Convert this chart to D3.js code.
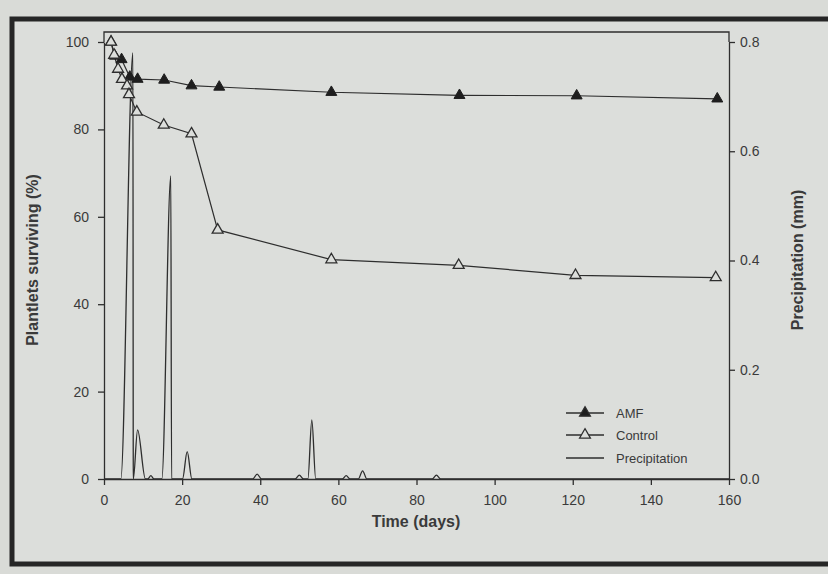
<!DOCTYPE html>
<html>
<head>
<meta charset="utf-8">
<script src="https://cdn.jsdelivr.net/npm/d3@7"></script>
<style>
  html, body { margin: 0; padding: 0; background: #d9dbd7; }
  svg { display: block; }
  text { font-family: "Liberation Sans", Arial, sans-serif; }
</style>
</head>
<body>
<script>
// ---------- data ----------
const amfDays   = [1.8, 2.8, 4.5, 6.6, 8.6, 15.4, 22.4, 29.5, 58.2, 91, 121, 157];
const amfVals   = [100, 96.8, 96, 92, 91.5, 91.3, 90, 89.7, 88.5, 87.8, 87.7, 87];
const ctrlDays  = [1.8, 2.6, 3.6, 4.6, 5.9, 6.4, 8.4, 15.3, 22.4, 29.1, 58.2, 90.8, 120.7, 156.6];
const ctrlVals  = [100, 97, 93.8, 91.5, 90, 88, 84, 81, 79, 57, 50.2, 48.9, 46.6, 46.1];
const precipDays = [0, 4.3, 7.4, 7.5, 8.6, 10.6, 11.2, 12, 12.8, 14.8, 17.1, 17.3, 20.1, 21.3, 22.5,
                    38.1, 39.2, 40.3, 48.9, 50, 51.1, 52.2, 53.2, 54.2, 61, 62, 63, 65.1, 66.2, 67.3, 84, 85.1, 86.2, 160];
const precipVals = [0, 0, 0.78, 0, 0.09, 0, 0, 0.006, 0, 0, 0.555, 0, 0, 0.05, 0,
                    0, 0.009, 0, 0, 0.007, 0, 0, 0.108, 0, 0, 0.006, 0, 0, 0.015, 0, 0, 0.007, 0, 0];
const xTicks = [0, 20, 40, 60, 80, 100, 120, 140, 160];
const yLeftTicks = [0, 20, 40, 60, 80, 100];
const yRightTicks = [0.0, 0.2, 0.4, 0.6, 0.8];
const legendLabels = ["AMF", "Control", "Precipitation"];

// ---------- layout ----------
const W = 828, H = 574;
const ink = "#2e2e2e", txt = "#3a3a3a";
const svg = d3.select("body").append("svg").attr("width", W).attr("height", H);

// outer photo frame
svg.append("rect").attr("x", 12).attr("y", 19).attr("width", 828).attr("height", 545)
  .attr("fill", "#dcdedb").attr("stroke", "#262626").attr("stroke-width", 5);

const x = d3.scaleLinear().domain([0, 160]).range([104, 729]);
const yL = d3.scaleLinear().domain([0, 100]).range([479, 42]);
const yR = d3.scaleLinear().domain([0, 0.8]).range([479, 42]);
const topY = 32;

// precipitation line
const pLine = d3.line().x(d => x(d[0])).y(d => yR(d[1])).curve(d3.curveMonotoneX);
svg.append("path").datum(precipDays.map((d, i) => [d, precipVals[i]]))
  .attr("d", pLine).attr("fill", "none").attr("stroke", ink).attr("stroke-width", 1.3);

// survival lines
const sLine = d3.line().x(d => x(d[0])).y(d => yL(d[1]));
svg.append("path").datum(amfDays.map((d, i) => [d, amfVals[i]]))
  .attr("d", sLine).attr("fill", "none").attr("stroke", ink).attr("stroke-width", 1.2);
svg.append("path").datum(ctrlDays.map((d, i) => [d, ctrlVals[i]]))
  .attr("d", sLine).attr("fill", "none").attr("stroke", ink).attr("stroke-width", 1.2);

const tri = d3.symbol().type(d3.symbolTriangle).size(52);
svg.append("g").selectAll("path").data(amfDays.map((d, i) => [d, amfVals[i]])).join("path")
  .attr("d", tri).attr("transform", d => `translate(${x(d[0])},${yL(d[1])})`)
  .attr("fill", "#1e1e1e").attr("stroke", "#1e1e1e").attr("stroke-width", 1);
svg.append("g").selectAll("path").data(ctrlDays.map((d, i) => [d, ctrlVals[i]])).join("path")
  .attr("d", tri).attr("transform", d => `translate(${x(d[0])},${yL(d[1])})`)
  .attr("fill", "#dcdedb").attr("stroke", ink).attr("stroke-width", 1.3);

// axes
function styleAxis(g) {
  g.selectAll("path").attr("stroke", ink).attr("stroke-width", 1.3);
  g.selectAll("line").attr("stroke", ink).attr("stroke-width", 1.3);
  g.selectAll("text").attr("fill", txt).style("font-size", "14px")
    .style("font-family", "'Liberation Sans', Arial, sans-serif");
}
svg.append("g").attr("transform", "translate(0,479)")
  .call(d3.axisBottom(x).tickValues(xTicks).tickSize(6).tickPadding(10).tickSizeOuter(0).tickFormat(d3.format("d")))
  .call(styleAxis);
svg.append("g").attr("transform", "translate(104,0)")
  .call(d3.axisLeft(yL).tickValues(yLeftTicks).tickSize(6).tickPadding(9).tickSizeOuter(0).tickFormat(d3.format("d")))
  .call(styleAxis);
svg.append("g").attr("transform", "translate(729,0)")
  .call(d3.axisRight(yR).tickValues(yRightTicks).tickSize(6).tickPadding(5).tickSizeOuter(0).tickFormat(d3.format(".1f")))
  .call(styleAxis);
// frame extension to top line
svg.append("path").attr("d", `M104,${yL(100)}V${topY}H729V${yR(0.8)}`)
  .attr("fill", "none").attr("stroke", ink).attr("stroke-width", 1.3);

// titles
svg.append("text").attr("x", 416).attr("y", 527).attr("text-anchor", "middle")
  .attr("fill", txt).style("font-size", "16px").style("font-weight", "bold").text("Time (days)");
svg.append("text").attr("transform", "translate(38,260) rotate(-90)").attr("text-anchor", "middle")
  .attr("fill", txt).style("font-size", "16px").style("font-weight", "bold").text("Plantlets surviving (%)");
svg.append("text").attr("transform", "translate(803,260) rotate(-90)").attr("text-anchor", "middle")
  .attr("fill", txt).style("font-size", "16px").style("font-weight", "bold").text("Precipitation (mm)");

// legend
const lg = svg.append("g");
const ly = [413, 435, 458];
legendLabels.forEach((lab, i) => {
  lg.append("line").attr("x1", 566).attr("x2", 604).attr("y1", ly[i]).attr("y2", ly[i])
    .attr("stroke", ink).attr("stroke-width", 1.3);
  if (i < 2) {
    lg.append("path").attr("d", tri).attr("transform", `translate(585,${ly[i]})`)
      .attr("fill", i === 0 ? "#1e1e1e" : "#dcdedb").attr("stroke", ink).attr("stroke-width", 1.2);
  }
  lg.append("text").attr("x", 616).attr("y", ly[i] + 5).attr("fill", txt)
    .style("font-size", "13px").text(lab);
});
</script>
</body>
</html>
